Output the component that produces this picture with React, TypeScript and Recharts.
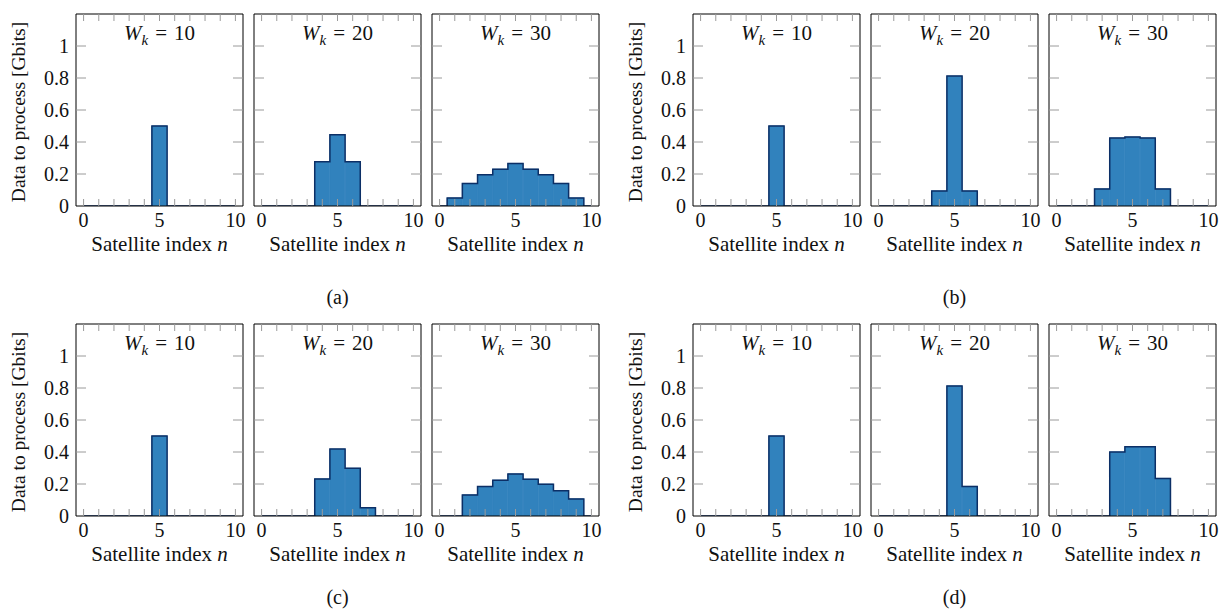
import React from 'react';
import { ComposedChart, Bar, Line, XAxis, YAxis } from 'recharts';

// =====================================================
// Data to process per satellite, four scenarios (a)-(d),
// three window sizes W_k each
// =====================================================

const satelliteIndex = [0, 1, 2, 3, 4, 5, 6, 7, 8, 9, 10];
const xTickLabels = [0, 5, 10];
const yTicks = [0, 0.2, 0.4, 0.6, 0.8, 1];
const windowSizes = [10, 20, 30];
const captions = ['(a)', '(b)', '(c)', '(d)'];

const aW10 = [0, 0, 0, 0, 0, 0.5, 0, 0, 0, 0, 0];
const aW20 = [0, 0, 0, 0, 0.277, 0.446, 0.277, 0, 0, 0, 0];
const aW30 = [0, 0.05, 0.141, 0.195, 0.23, 0.266, 0.23, 0.195, 0.141, 0.05, 0];

const bW10 = [0, 0, 0, 0, 0, 0.5, 0, 0, 0, 0, 0];
const bW20 = [0, 0, 0, 0, 0.094, 0.812, 0.094, 0, 0, 0, 0];
const bW30 = [0, 0, 0, 0.107, 0.425, 0.431, 0.425, 0.107, 0, 0, 0];

const cW10 = [0, 0, 0, 0, 0, 0.5, 0, 0, 0, 0, 0];
const cW20 = [0, 0, 0, 0, 0.232, 0.418, 0.298, 0.052, 0, 0, 0];
const cW30 = [0, 0, 0.132, 0.184, 0.224, 0.263, 0.23, 0.199, 0.158, 0.107, 0];

const dW10 = [0, 0, 0, 0, 0, 0.5, 0, 0, 0, 0, 0];
const dW20 = [0, 0, 0, 0, 0, 0.813, 0.185, 0, 0, 0, 0];
const dW30 = [0, 0, 0, 0, 0.4, 0.433, 0.433, 0.235, 0, 0, 0];

const scenarios = [
  [aW10, aW20, aW30],
  [bW10, bW20, bW30],
  [cW10, cW20, cW30],
  [dW10, dW20, dW30],
];

// layout
const FRAME_W = 167;
const FRAME_H = 192;
const PANEL_STEP = 178;
const GROUP_LEFT = [76, 693, 76, 693];
const GROUP_TOP = [14, 14, 324, 324];
const CAPTION_Y = [297, 297, 597, 597];
// outer padding around the frame; axes take 1px each side
const PAD = { top: 4, right: 4, bottom: 30, left: 46 };
const M = { top: PAD.top - 1, right: PAD.right - 1, bottom: PAD.bottom - 1, left: PAD.left - 1 };

const FONT = '"Liberation Serif", "Times New Roman", Times, Tinos, "Noto Serif", "DejaVu Serif", serif';
const FS = 20;
const FILL = '#3182bd';
const EDGE = '#0c2f66';
const TICK = '#9a9a9a';

const BottomTick = (props: any) => {
  const { x, y, payload } = props;
  return (
    <g>
      <line x1={x} y1={y} x2={x} y2={y - 7} stroke={TICK} strokeWidth={1} />
      {xTickLabels.includes(payload.value) && (
        <text x={x} y={y + 21} textAnchor="middle" fontFamily={FONT} fontSize={FS} fill="#111">
          {payload.value}
        </text>
      )}
    </g>
  );
};

const TopTick = (props: any) => {
  const { x, y } = props;
  return <line x1={x} y1={y} x2={x} y2={y + 7} stroke={TICK} strokeWidth={1} />;
};

const LeftTick = (props: any) => {
  const { x, y, payload, showLabels } = props;
  return (
    <g>
      {payload.value > 0 && <line x1={x} y1={y} x2={x + 10} y2={y} stroke={TICK} strokeWidth={1} />}
      {showLabels && (
        <text x={x - 7} y={y + 7} textAnchor="end" fontFamily={FONT} fontSize={FS} fill="#111">
          {String(payload.value)}
        </text>
      )}
    </g>
  );
};

const RightTick = (props: any) => {
  const { x, y, payload } = props;
  if (payload.value <= 0) return <g />;
  return <line x1={x} y1={y} x2={x - 10} y2={y} stroke={TICK} strokeWidth={1} />;
};

function Panel({ values, wk, showY, frameLeft, frameTop }: {
  values: number[]; wk: number; showY: boolean; frameLeft: number; frameTop: number;
}) {
  const data = satelliteIndex.map((n, i) => ({ n, v: values[i] }));
  return (
    <>
      <div style={{ position: 'absolute', left: frameLeft - PAD.left, top: frameTop - PAD.top }}>
        <ComposedChart
          width={PAD.left + FRAME_W + PAD.right}
          height={PAD.top + FRAME_H + PAD.bottom}
          data={data}
          margin={M}
          barCategoryGap={0}
          barGap={0}
        >
          <Bar dataKey="v" fill={FILL} stroke={FILL} strokeWidth={0.8} isAnimationActive={false} />
          <Line
            type="step"
            dataKey="v"
            stroke={EDGE}
            strokeWidth={1.5}
            dot={false}
            activeDot={false}
            isAnimationActive={false}
          />
          <XAxis
            dataKey="n"
            type="category"
            height={1}
            interval={0}
            tickSize={0}
            tickMargin={0}
            tickLine={false}
            axisLine={{ stroke: '#000' }}
            tick={(p: any) => <BottomTick {...p} />}
          />
          <XAxis
            xAxisId="top"
            orientation="top"
            dataKey="n"
            type="category"
            height={1}
            interval={0}
            tickSize={0}
            tickMargin={0}
            tickLine={false}
            axisLine={{ stroke: '#000' }}
            tick={(p: any) => <TopTick {...p} />}
          />
          <YAxis
            type="number"
            domain={[0, 1.2]}
            ticks={yTicks}
            allowDataOverflow
            width={1}
            tickSize={0}
            tickMargin={0}
            tickLine={false}
            axisLine={{ stroke: '#000' }}
            tick={(p: any) => <LeftTick {...p} showLabels={showY} />}
          />
          <YAxis
            yAxisId="right"
            orientation="right"
            type="number"
            domain={[0, 1.2]}
            ticks={yTicks}
            allowDataOverflow
            width={1}
            tickSize={0}
            tickMargin={0}
            tickLine={false}
            axisLine={{ stroke: '#000' }}
            tick={(p: any) => <RightTick {...p} />}
          />
        </ComposedChart>
      </div>
      <div
        style={{
          position: 'absolute', left: frameLeft, top: frameTop + 7, width: FRAME_W,
          textAlign: 'center', fontFamily: FONT, fontSize: 21, lineHeight: '24px', color: '#111',
        }}
      >
        <i>W</i>
        <sub style={{ fontSize: 15, verticalAlign: '-5px' }}><i>k</i></sub>
        {'\u2004=\u2004'}{wk}
      </div>
      <div
        style={{
          position: 'absolute', left: frameLeft - 30, top: frameTop + FRAME_H + 26, width: FRAME_W + 60,
          textAlign: 'center', fontFamily: FONT, fontSize: 21, lineHeight: '24px', color: '#111',
        }}
      >
        Satellite index <i>n</i>
      </div>
      {showY && (
        <div
          style={{
            position: 'absolute', left: frameLeft - 57 - 120, top: frameTop + 98 - 12, width: 240,
            height: 24, textAlign: 'center', fontFamily: FONT, fontSize: 19.5, lineHeight: '24px',
            color: '#111', transform: 'rotate(-90deg)',
          }}
        >
          Data to process [Gbits]
        </div>
      )}
    </>
  );
}

export default function App() {
  return (
    <div style={{ position: 'absolute', left: 0, top: 0, width: 1229, height: 611, background: '#fff', overflow: 'hidden' }}>
      {scenarios.map((group, g) => (
        <React.Fragment key={captions[g]}>
          {group.map((values, i) => (
            <Panel
              key={i}
              values={values}
              wk={windowSizes[i]}
              showY={i === 0}
              frameLeft={GROUP_LEFT[g] + i * PANEL_STEP}
              frameTop={GROUP_TOP[g]}
            />
          ))}
          <div
            style={{
              position: 'absolute', left: GROUP_LEFT[g], top: CAPTION_Y[g] - 12,
              width: 2 * PANEL_STEP + FRAME_W, textAlign: 'center', fontFamily: FONT,
              fontSize: 20, lineHeight: '24px', color: '#111',
            }}
          >
            {captions[g]}
          </div>
        </React.Fragment>
      ))}
    </div>
  );
}
